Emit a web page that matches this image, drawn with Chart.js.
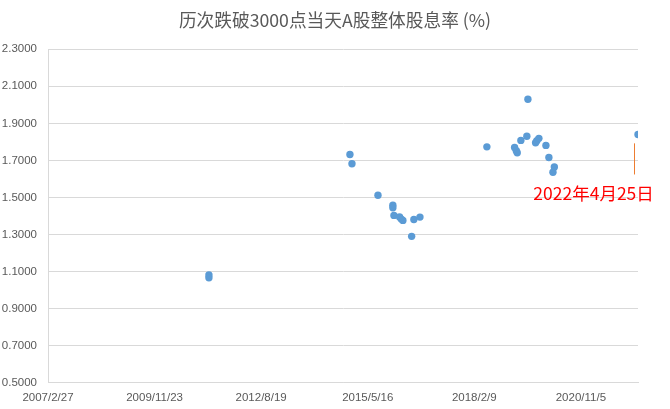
<!DOCTYPE html>
<html>
<head>
<meta charset="utf-8">
<script src="https://cdn.jsdelivr.net/npm/chart.js@4/dist/chart.umd.min.js"></script>
<style>
html,body{margin:0;padding:0;background:#fff;}
#wrap{width:670px;height:409px;position:relative;}
</style>
</head>
<body>
<div id="wrap"><canvas id="c" width="670" height="409"></canvas></div>
<script>
// ---- data ----
const titleText = '历次跌破3000点当天A股整体股息率 (%)';
const dates = ['2011/4/17','2011/4/17','2014/11/30','2014/12/19','2015/8/20','2016/1/7','2016/1/7','2016/1/17','2016/3/10','2016/3/26','2016/4/10','2016/7/1','2016/7/22','2016/9/17','2018/6/7','2019/2/22','2019/3/10','2019/3/19','2019/4/22','2019/6/17','2019/6/27','2019/9/7','2019/9/19','2019/10/8','2019/12/13','2020/1/10','2020/2/17','2020/3/1','2022/4/25'];
const yields = [1.081,1.066,1.732,1.682,1.512,1.458,1.444,1.403,1.395,1.383,1.376,1.290,1.381,1.394,1.773,1.770,1.752,1.741,1.808,1.830,2.030,1.795,1.806,1.819,1.781,1.716,1.636,1.664,1.840];
const xAxisMinDate = '2007/2/27';
const xAxisMaxDate = '2022/4/25';
const xStepDays = 1000;
const yMin = 0.5, yMax = 2.3, yStep = 0.2;
const annotationLabel = '2022年4月25日';
const annotationLineDate = '2022/3/15';
const annotationLineFrom = 1.792, annotationLineTo = 1.624;
const annotationTextDate = '2021/3/4';
const annotationTextValue = 1.523;

// ---- helpers ----
function toDay(s){const p=s.split('/').map(Number);return Date.UTC(p[0],p[1]-1,p[2])/864e5;}
function fmtDay(v){const d=new Date(Math.round(v)*864e5);return d.getUTCFullYear()+'/'+(d.getUTCMonth()+1)+'/'+d.getUTCDate();}

const points = dates.map((d,i)=>({x:toDay(d),y:yields[i]}));
const xMin = toDay(xAxisMinDate), xMax = toDay(xAxisMaxDate);

const annotationPlugin = {
  id:'anno',
  afterDatasetsDraw(chart){
    const ctx = chart.ctx, xs = chart.scales.x, ys = chart.scales.y;
    const lx = Math.round(xs.getPixelForValue(toDay(annotationLineDate)))+0.5;
    ctx.save();
    ctx.strokeStyle = '#ED7D31';
    ctx.lineWidth = 1;
    ctx.beginPath();
    ctx.moveTo(lx, ys.getPixelForValue(annotationLineFrom));
    ctx.lineTo(lx, ys.getPixelForValue(annotationLineTo));
    ctx.stroke();
    ctx.fillStyle = '#FF0000';
    ctx.font = '17.5px "Noto Sans CJK SC", "Liberation Sans", sans-serif';
    ctx.textAlign = 'center';
    ctx.textBaseline = 'middle';
    ctx.fillText(annotationLabel, xs.getPixelForValue(toDay(annotationTextDate)), ys.getPixelForValue(annotationTextValue));
    ctx.restore();
  }
};

new Chart(document.getElementById('c'), {
  type:'scatter',
  data:{datasets:[{
    data:points,
    backgroundColor:'#5B9BD5',
    borderColor:'#5B9BD5',
    borderWidth:0,
    pointRadius:3.7,
    pointHoverRadius:3.7
  }]},
  options:{
    responsive:false,
    animation:false,
    events:[],
    layout:{padding:{left:0,right:0,top:0,bottom:0}},
    plugins:{
      legend:{display:false},
      tooltip:{enabled:false},
      title:{
        display:true,
        text:titleText,
        color:'#595959',
        font:{family:'"Noto Sans CJK SC", sans-serif',size:17.7,weight:'normal'},
        padding:{top:10,bottom:18}
      }
    },
    scales:{
      x:{
        type:'linear',
        min:xMin,max:xMax,
        afterBuildTicks(scale){
          const t=[];
          for(let v=xMin; v<=xMax; v+=xStepDays) t.push({value:v});
          scale.ticks=t;
        },
        afterFit(scale){scale.height=26.3; scale.paddingRight=32;},
        grid:{display:false,drawTicks:false},
        border:{display:true,color:'#D9D9D9',width:1},
        ticks:{
          color:'#595959',
          font:{family:'"Liberation Sans", sans-serif',size:11.5},
          padding:8,
          maxRotation:0,
          autoSkip:false,
          callback:(v)=>fmtDay(v)
        }
      },
      y:{
        min:yMin,max:yMax,
        afterFit(scale){scale.width=48;},
        grid:{color:'#D9D9D9',lineWidth:1,drawTicks:false},
        border:{display:true,color:'#D9D9D9',width:1},
        ticks:{
          stepSize:yStep,
          color:'#595959',
          font:{family:'"Liberation Sans", sans-serif',size:11.5},
          padding:11,
          callback:(v)=>Number(v).toFixed(4)
        }
      }
    }
  },
  plugins:[annotationPlugin]
});
</script>
</body>
</html>
